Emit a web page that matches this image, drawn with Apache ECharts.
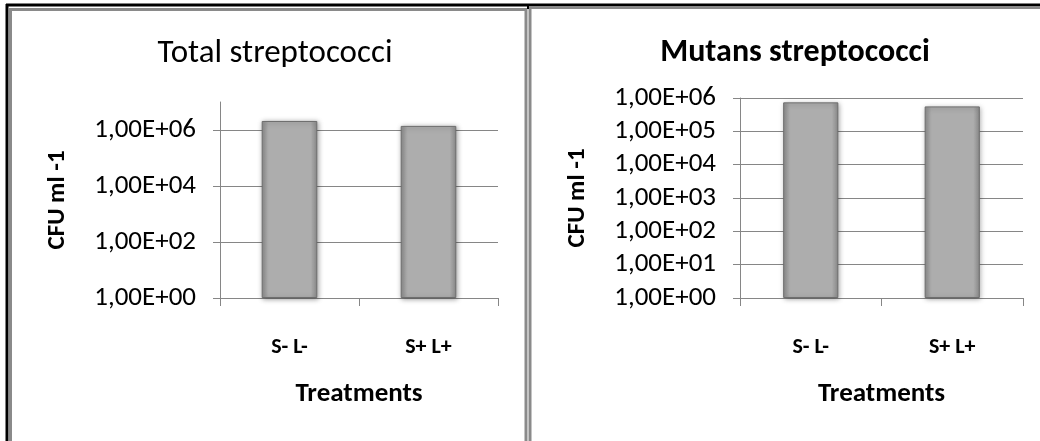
<!DOCTYPE html>
<html>
<head>
<meta charset="utf-8">
<script src="https://cdn.jsdelivr.net/npm/echarts@6/dist/echarts.min.js"></script>
<style>
  html, body { margin: 0; padding: 0; background: #fff; }
  #chart { width: 1040px; height: 441px; }
</style>
</head>
<body>
<div id="chart"></div>
<script>
// data
const treatments = ['S- L-', 'S+ L+'];
const totalStrep = [2.1e6, 1.4e6];
const mutansStrep = [7.4e5, 5.6e5];
const totalTicks = [1, 1e2, 1e4, 1e6];

const FONT = 'Carlito, Lato, sans-serif';
const GRID_GRAY = '#868686';

// Excel style "1,00E+06"
function sciLabel(v) {
  const exp = Math.round(Math.log10(v));
  return '1,00E+' + String(exp).padStart(2, '0');
}

const barStyle = {
  color: {
    type: 'linear', x: 0, y: 0, x2: 1, y2: 0,
    colorStops: [
      { offset: 0, color: '#8c8c8c' },
      { offset: 0.12, color: '#adadad' },
      { offset: 0.88, color: '#adadad' },
      { offset: 1, color: '#8c8c8c' }
    ]
  },
  borderColor: '#6e6e6e',
  borderWidth: 1,
  shadowBlur: 5,
  shadowColor: 'rgba(0,0,0,0.35)',
  shadowOffsetX: 1,
  shadowOffsetY: 1
};

function xAxisFor(gridIndex) {
  return {
    type: 'category',
    gridIndex: gridIndex,
    data: treatments,
    name: 'Treatments',
    nameLocation: 'middle',
    nameGap: 83,
    nameTextStyle: { fontFamily: FONT, fontSize: 27, fontWeight: 'bold', color: '#000' },
    axisLine: { lineStyle: { color: GRID_GRAY, width: 1 } },
    axisTick: { show: true, length: 8, lineStyle: { color: GRID_GRAY } },
    axisLabel: { fontFamily: FONT, fontSize: 22, fontWeight: 'bold', color: '#000', margin: 38 },
    splitLine: { show: false }
  };
}

function yAxisFor(gridIndex, max, custom) {
  const axis = {
    type: 'log',
    logBase: 10,
    gridIndex: gridIndex,
    min: 1,
    max: max,
    name: 'CFU ml -1',
    nameLocation: 'middle',
    nameGap: 150,
    nameTextStyle: { fontFamily: FONT, fontSize: 25, fontWeight: 'bold', color: '#000' },
    axisLine: { show: true, lineStyle: { color: GRID_GRAY, width: 1 } },
    axisTick: { show: true, length: 7, lineStyle: { color: GRID_GRAY } },
    axisLabel: { fontFamily: FONT, fontSize: 27, color: '#000', margin: 24, formatter: sciLabel },
    splitLine: { show: true, lineStyle: { color: GRID_GRAY, width: 1 } }
  };
  if (custom) {
    axis.axisTick.customValues = custom;
    axis.axisLabel.customValues = custom;
  }
  return axis;
}

const chart = echarts.init(document.getElementById('chart'));

const option = {
  backgroundColor: '#fff',
  animation: false,
  title: [
    {
      text: 'Total streptococci',
      left: 270, top: 32, textAlign: 'center',
      textStyle: { fontFamily: FONT, fontSize: 33, fontWeight: 'normal', color: '#000' }
    },
    {
      text: 'Mutans streptococci',
      left: 790, top: 32, textAlign: 'center',
      textStyle: { fontFamily: FONT, fontSize: 32, fontWeight: 'bold', color: '#000' }
    }
  ],
  grid: [
    { left: 220, top: 102, width: 278, height: 196 },
    { left: 740, top: 98, width: 283, height: 200 }
  ],
  xAxis: [xAxisFor(0), xAxisFor(1)],
  yAxis: [yAxisFor(0, 1e7, totalTicks), yAxisFor(1, 1e6, null)],
  series: [
    {
      name: 'Total streptococci',
      type: 'bar',
      xAxisIndex: 0, yAxisIndex: 0,
      barWidth: '40%',
      data: totalStrep,
      itemStyle: barStyle
    },
    {
      name: 'Mutans streptococci',
      type: 'bar',
      xAxisIndex: 1, yAxisIndex: 1,
      barWidth: '39%',
      data: mutansStrep,
      itemStyle: barStyle
    }
  ],
  // frame lines of the two panels
  graphic: [
    { type: 'line', shape: { x1: 6, y1: 5, x2: 1040, y2: 5 }, style: { stroke: '#000', lineWidth: 3 } },
    { type: 'line', shape: { x1: 7, y1: 4, x2: 7, y2: 441 }, style: { stroke: '#000', lineWidth: 3 } },
    { type: 'polyline', shape: { points: [[10.5, 441], [10.5, 9.5], [526, 9.5], [526, 441]] }, style: { stroke: '#8a8a8a', fill: null, lineWidth: 3 } },
    { type: 'polyline', shape: { points: [[530, 441], [530, 7.5], [1040, 7.5]] }, style: { stroke: '#8a8a8a', fill: null, lineWidth: 3 } },
    { type: 'line', shape: { x1: 528, y1: 4, x2: 528, y2: 9 }, style: { stroke: '#000', lineWidth: 2 } }
  ]
};

chart.setOption(option);
</script>
</body>
</html>
